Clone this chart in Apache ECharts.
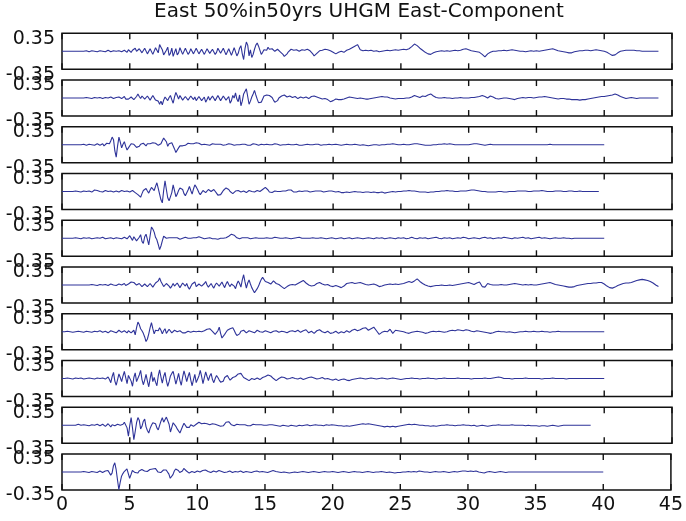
<!DOCTYPE html>
<html>
<head>
<meta charset="utf-8">
<script src="https://cdn.jsdelivr.net/npm/echarts@6/dist/echarts.min.js"></script>
<style>
html,body{margin:0;padding:0;background:#fff}
#main{width:686px;height:521px}
</style>
</head>
<body>
<div id="main"></div>
<script>
// first 20 s are sampled every 0.1 s, the rest every 0.2 s
var DT_EARLY = 0.1;
var DT_LATE = 0.2;
var T_SPLIT = 20;

// ---- trace 1 ----
var tr1Early = [0,0,0,0,0,0,0,0,0,0,0,0,0,0,0,0,0,0,0.01,0,-0.01,0,0.01,-0.01,0,0.01,-0.01,0,0.01,-0.01,0,0.01,-0.01,0.01,0.02,-0.01,-0.01,0.01,0.01,-0.01,0,0.01,0.01,-0.02,-0.01,0.02,0.02,-0.01,-0.02,0.03,
  0.05,-0.02,0.02,0.04,0.06,0,-0.02,0.05,0.03,-0.03,-0.04,0.06,0.04,-0.05,-0.03,0.05,0.02,-0.06,-0.05,0.07,0.04,-0.03,0.13,0.08,0.03,-0.07,-0.06,0.02,0.08,-0.08,-0.04,0.06,-0.1,-0.02,0.05,-0.07,-0.03,0.07,0.06,-0.06,-0.05,0.06,0.04,-0.06,-0.02,0.05,0.07,-0.05,-0.04,0.06,
  0.05,-0.05,-0.03,0.04,0.06,-0.06,-0.05,0.05,0.03,-0.04,-0.06,0.04,0.07,-0.06,-0.02,0.06,0.05,-0.04,-0.07,0.06,0.04,-0.07,-0.05,0.05,0.08,-0.08,-0.06,0.07,0.1,-0.09,-0.04,0.06,0.11,-0.05,-0.16,0.05,0.18,0.12,-0.09,0.03,-0.12,-0.06,0.04,0.12,0.16,0.1,0.07,-0.06,-0.02,0.03,
  0.05,0.02,0.08,0.04,0.02,0.05,0.04,0,-0.02,0.04,0.03,-0.01,-0.03,-0.06,-0.1,-0.08,-0.05,-0.01,0.02,0.04,0.04,0.02,0.01,0.03,0.03,0,0.01,0.03,0.04,0.02,0.02,0.04,0.03,0.01,-0.01,-0.05,-0.09,-0.07,-0.04,-0.01,0.01,0.03,0.02,0.01,0.04,0.02,0.03,0.03,0.01,-0.01];
var tr1Late = [-0.02,-0.05,-0.02,0,-0.02,0.02,0.04,0.07,0.1,0.13,0.03,0.01,0.02,0.01,0.02,0,0.01,-0.01,0,0.01,0.02,0.01,0.02,0.03,0.02,
  0.03,0.04,0.03,0.05,0.09,0.14,0.11,0.06,0.02,-0.02,-0.05,-0.06,-0.03,-0.01,0,0.01,0,0.01,0,0.01,0.02,0.01,0.02,0.04,0.05,
  0.03,0.01,0,-0.01,-0.02,-0.06,-0.11,-0.05,-0.02,0,0,0.01,0.01,0.02,0.01,0.02,0.03,0.02,0.01,0,0,-0.01,0,0.01,0,
  0.01,0,0.01,0.02,0.03,0.04,0.05,0.03,0.01,0,-0.01,-0.02,-0.03,-0.03,-0.01,0,0.01,0.01,0.02,0.02,0.01,0.02,0.03,0.02,0.01,
  0,-0.02,-0.05,-0.08,-0.07,-0.03,0,0.01,0.02,0.02,0.02,0.02,0.01,0.01,0,0,0,0,0,0,0];

// ---- trace 2 ----
var tr2Early = [0,0,0,0,0,0,0,0,0,0,0,0,0,0,0,0,0,0,0.01,-0.01,0,0.01,-0.01,0,0.01,-0.01,0,0.01,0.01,-0.01,-0.01,0.01,0.01,-0.01,0,0.01,0.02,-0.01,-0.01,0.02,0.01,-0.01,0.02,0,-0.01,0.02,0.03,-0.02,0.01,-0.02,
  -0.03,0.02,0.04,-0.03,-0.02,0.03,0.08,0.03,-0.01,0.04,0.05,-0.02,-0.04,0.04,0.03,-0.04,-0.05,0.05,0.04,-0.04,-0.02,-0.06,-0.12,-0.06,-0.13,-0.04,0.02,0.05,-0.05,0.01,0.05,-0.03,-0.1,0.02,0.11,0.05,-0.02,0.05,0.03,-0.04,-0.06,0.03,0.04,-0.04,-0.03,0.04,0.06,-0.03,0.02,-0.05,
  -0.04,0.03,0.05,-0.05,-0.02,0.02,-0.08,-0.03,0.03,-0.04,-0.05,0.04,0.06,-0.05,-0.03,0.05,0.04,-0.05,-0.06,0.04,0.03,-0.04,-0.05,0.03,-0.1,-0.05,0.05,0,0.1,-0.02,-0.07,0.06,-0.15,-0.06,0.08,0.1,0.18,0.03,-0.12,-0.06,0.02,0.08,0.15,0.06,-0.02,-0.09,-0.12,-0.08,-0.05,0.04,
  0.03,0.06,0.08,0.05,0.04,0.01,-0.04,-0.08,-0.1,-0.05,0,0.03,0.04,0.03,0.06,0.04,0.02,0.04,0.04,0.02,0.01,0.03,0.03,0,-0.01,0.01,0.02,0.01,0,0.01,0.02,0,-0.01,0.01,0.03,0.02,0.04,0.03,0.02,0.01,0,-0.01,-0.02,-0.02,-0.01,-0.02,-0.03,-0.05,-0.07,-0.06];
var tr2Late = [-0.05,-0.02,-0.03,-0.03,-0.02,0,0.02,0.01,0,-0.01,0,-0.01,-0.02,-0.02,-0.01,0,0.01,0.02,0.03,0.02,0.02,0,-0.01,-0.02,-0.01,
  -0.01,-0.01,0,0,0.02,0.05,0.03,0.01,0.04,0.03,0.06,0.08,0.04,0.01,0,0,0.01,0,0,-0.01,0,0,0.01,0,0,
  0,0.01,0.01,0.02,0.03,0.05,0.03,0,0.04,0.02,-0.01,-0.02,-0.01,0,0,-0.01,-0.02,-0.03,-0.01,0,0.01,0,0.01,0.01,0,
  0.01,0.02,0.02,0.03,0.02,0.01,0,-0.01,-0.02,-0.01,-0.01,-0.02,-0.02,-0.03,-0.03,-0.03,-0.04,-0.03,-0.03,-0.02,-0.01,0,0.01,0.02,0.03,
  0.03,0.04,0.05,0.06,0.08,0.06,0.03,0.01,-0.01,0,0.01,0,-0.01,0,0,0,0,0,0,0,0];

// ---- trace 3 ----
var tr3Early = [0,0,0,0,0,0,0,0,0,0,0,0,0,0,0,0,0.01,0,-0.01,0.01,0.01,-0.01,0,0.01,-0.01,0.01,0.02,-0.01,-0.01,0.02,0.02,-0.02,-0.02,0.03,0.04,0.02,0.08,0.15,0.1,-0.12,-0.24,-0.02,0.15,0.05,-0.06,0.01,0.06,-0.03,-0.1,-0.06,
  -0.04,0.02,0.04,0.01,-0.02,-0.05,-0.06,-0.03,0.01,0.04,0.03,0,-0.02,0.02,0.04,0.02,0,0.04,0.06,0.03,0.02,-0.01,-0.03,0.02,0.08,0.13,0.15,0.06,-0.03,0.02,0.05,0.04,0.02,-0.08,-0.15,-0.12,-0.06,-0.02,0,-0.02,-0.03,-0.01,0.02,0.03,0.03,0.02,0.01,0.02,0.03,0.04,
  0.05,0.03,0.02,0,-0.01,0.01,0.02,0,-0.02,-0.01,0.01,0.02,0.03,0.01,-0.01,0.01,0.02,0.01,0,-0.01,-0.02,0,0.01,0.02,0.03,0.01,0,-0.01,-0.02,0,0.01,0,-0.01,0.01,0.02,0.01,0,-0.01,-0.02,-0.01,0.01,0.02,0.03,0.01,0,-0.01,-0.01,0.01,0.02,0,
  0,0.01,0.02,0,-0.01,0,0.01,0.02,0.03,0.01,0,-0.01,-0.01,0,0.01,0,0,0.01,0.02,0,-0.01,0,0.01,0.01,0,-0.01,-0.02,-0.01,0.01,0,0,0.01,0.01,0,-0.01,0,0,0.01,0.02,0.01,0,-0.01,-0.01,0,0.01,0,0,0.01,0.01,0];
var tr3Late = [0,0.01,0,-0.01,0,0.01,0,0,0.01,0,-0.01,0,-0.01,-0.02,-0.01,0,0,-0.01,0,0,0.01,0.01,0.02,0.01,0,
  0,0.01,0,0,0.01,0.02,0.02,0.01,0,-0.01,-0.01,-0.01,0,0,0.01,0.01,0.02,0.01,0.02,0.01,0,0,0,0,0,
  0,0.01,0.02,0.02,0.01,0,-0.01,0,0.01,0,0,0,0,0,0,0,0,0,0,0,0,0,0,0,0,
  0,0,0,0,0,0.01,0,0,0,0,0,0,0,0,0,0,0,0,0,0,0,0,0,0,0,
  0];

// ---- trace 4 ----
var tr4Early = [0,0,0,0,0,0,0,0,0,0,0.01,0,0,-0.01,-0.01,0,0.01,0.01,0,-0.01,0.01,0,-0.01,0.01,0.03,0.03,0.02,0.01,0,-0.01,-0.01,0.01,0.02,0.01,0,0.01,0.01,0,-0.01,0,0.01,0,-0.01,0.01,0.02,0.01,0,-0.01,0.01,0,
  -0.01,0.01,0.02,0,-0.02,-0.03,-0.06,-0.09,-0.11,-0.04,0.02,0.05,0.06,0.01,-0.03,0.03,0.08,0.05,0.02,0.1,0.17,0.06,-0.05,-0.16,-0.22,0.02,0.21,0.04,-0.12,-0.18,-0.19,-0.02,0.13,0.02,-0.1,-0.05,0.02,0.07,0.1,0.04,-0.04,-0.08,-0.06,0.03,0.1,0.02,-0.05,0.05,0.13,0.09,
  0.04,-0.02,-0.06,-0.02,0.02,0.01,-0.02,0.01,0.04,0.02,0,0.02,0.04,0.01,-0.03,-0.07,-0.1,-0.06,-0.02,0.02,0.05,0.07,0.08,0.04,0,-0.03,-0.04,-0.02,0.01,0,0.02,0.01,-0.01,0,0.01,-0.01,-0.02,0,0.02,0.01,0,0,-0.01,0.01,0.02,0.01,0,0.02,0.04,0.06,
  0.08,0.06,0.03,-0.01,-0.04,-0.02,0,0.01,0.02,0,-0.01,0,0.01,0.01,0,0.01,0.02,0.03,0.04,0.03,0.01,-0.01,-0.02,-0.01,0,0.01,0.01,0,-0.01,0.01,0.02,0.01,0,-0.01,-0.01,0,0.01,0.01,0,0.01,0.02,0.01,0,-0.01,-0.01,0,0.01,0.01,0.02,0.01];
var tr4Late = [0,-0.01,0,-0.02,-0.02,-0.01,-0.02,-0.01,0,-0.01,-0.01,-0.02,-0.01,-0.01,-0.02,-0.01,-0.02,-0.02,-0.01,-0.03,-0.02,-0.01,0,-0.01,0,
  0,0.01,0.01,0.02,0.01,0.01,0,-0.01,-0.01,-0.01,-0.02,-0.01,-0.01,0,0,0.01,0.01,0.02,0.01,0.01,0,0,0.01,0.01,0.01,
  0.02,0.03,0.03,0.02,0.01,0,0,-0.01,-0.01,-0.01,-0.01,0,0,-0.01,-0.01,0,0,0,0.01,0.01,0.01,0.01,0,0,0.01,
  0.01,0.01,0.02,0.01,0,0,0,0.01,0.01,0.01,0,0,0.01,0.01,0,0,0.01,0,0,0,0,0,0,0];

// ---- trace 5 ----
var tr5Early = [0,0,0,0,0,0,0,0,0,0,0.01,0,0,-0.01,-0.01,0,0.01,0,0,0.01,0.01,0,-0.01,0,0,0.01,0.01,0,0,0.01,0.02,0,-0.01,0,0,0.01,0.01,0,-0.01,0,0.01,0.01,0,-0.01,-0.01,0.01,0.02,0.01,-0.01,0.02,
  0.05,0.02,-0.04,0.03,0.06,-0.05,-0.08,0.02,0.07,-0.06,-0.1,0.03,0.08,-0.02,-0.13,0.05,0.22,0.18,0.12,0.02,-0.03,-0.12,-0.22,-0.15,-0.05,0.04,0.05,0,-0.02,0.01,0.03,0.01,-0.01,0.01,0.02,0.01,0,-0.02,-0.02,0,0.01,0.02,0.02,0,-0.01,0,0.01,0.01,0,0.01,
  0.02,0.03,0.03,0.01,0,-0.01,-0.01,0,0.01,0.01,0,-0.01,-0.01,-0.01,-0.02,-0.02,-0.01,0,0.01,0,0,0.01,0.02,0.04,0.06,0.08,0.08,0.06,0.03,0.01,-0.01,-0.01,0,0.01,0.01,0.01,0.02,0.01,0,-0.01,-0.01,0,0.01,0.01,0,0,0.01,0,-0.01,0,
  0,0.01,0.01,0,0,0,0.01,0.02,0.02,0.01,0.01,0,-0.01,0,0,0.01,0.01,0,0,-0.01,-0.01,0,0,0.01,0.02,0.02,0.01,0,0,0,0.01,0,-0.01,0,0,0.01,0.01,0,0,0,0,0.01,0.01,0,0,-0.01,-0.01,0,0,0.01];
var tr5Late = [0.01,-0.01,0,0.01,-0.01,0,0.01,-0.01,0,0.01,0,-0.01,0,0.01,0,-0.01,0.01,0,0.01,-0.01,0,0.01,0,-0.01,0.01,
  0,0.01,-0.01,0,0.02,0,-0.01,0.01,0,0.01,-0.01,0,0.01,0.02,0,-0.01,0.01,0,0.01,-0.01,0,0.01,0,0.02,0.01,
  -0.01,0,0.01,0,-0.01,0.01,0.02,0,0.01,-0.01,0,0.01,0,0.02,0.01,0,-0.01,0.01,0,0.01,0.02,0,0.01,-0.01,0,
  0.01,0.02,0,0.01,0,-0.01,0,0.01,0,0,0.01,0,0,-0.01,0,0,0,0,0,0,0,0,0,0,0,
  0];

// ---- trace 6 ----
var tr6Early = [0,0,0,0,0,0,0,0,0,0,0,0,0,0,0,0,0,0,0,0,0,0,0.01,0,0,-0.01,-0.01,0.01,0.01,0,0,0.01,0.01,-0.01,-0.01,0.01,0.02,0,0,-0.01,-0.01,0.01,0.02,-0.01,0,0.02,0.03,-0.01,-0.02,0.02,
  0.04,0.06,0.09,0.05,0.03,0,-0.02,0.03,0.02,-0.03,-0.04,0.02,0.05,-0.03,-0.02,0.03,0.04,-0.04,-0.03,0.04,0.02,0.08,0.14,0.07,0.04,-0.03,-0.05,0.03,0.06,-0.02,-0.06,-0.02,0.03,-0.02,-0.04,0.04,0.07,-0.05,-0.02,0.04,0.05,-0.02,0.03,-0.04,-0.08,-0.03,0.02,0.05,0.06,-0.03,
  -0.05,0.02,0.05,-0.02,-0.03,0.03,0.07,0,-0.04,-0.02,0.03,-0.02,-0.06,0,0.04,0.03,-0.02,0.01,0.06,0,-0.05,0.02,0.07,0.01,-0.03,0.02,0.05,-0.02,-0.07,0.02,0.08,0.03,-0.04,0.1,0.2,0.06,-0.06,0.04,0.1,0.02,-0.05,-0.1,-0.15,-0.12,-0.07,-0.02,0.05,0.11,0.15,0.12,
  0.07,0.04,0.05,0.06,0.02,0.05,0.08,0.06,0.03,0,0.01,-0.01,-0.03,-0.05,-0.07,-0.06,-0.03,-0.01,0,0.02,0.01,0,0,0.02,0.03,0.04,0.06,0.08,0.09,0.07,0.04,0.01,0,-0.01,-0.02,-0.02,-0.01,0.01,0.03,0.05,0.05,0.04,0.02,0,0,0.01,0.01,0,-0.02,-0.03];
var tr6Late = [-0.03,-0.01,-0.03,-0.05,-0.02,0.03,0.04,0.05,0.03,0.04,0.05,0.03,0.01,0,0.01,0.02,0,-0.03,-0.02,0,0.01,0.02,0.01,0.02,0.01,
  0.02,0.03,0.05,0.07,0.05,0.08,0.12,0.07,0.03,0,-0.02,-0.03,-0.02,-0.01,-0.01,0,-0.01,-0.01,0,-0.01,0,0.01,0.02,0.03,0.04,
  0.05,0.03,0.01,0.04,0.06,-0.03,-0.04,0.03,0.01,0,0,0,0.01,0,0,0.01,0.02,0.03,0.02,0.01,0,0.01,0,0.01,0,
  0,0.01,0.02,0.03,0.04,0.05,0.03,0.01,0,-0.01,-0.02,-0.03,-0.04,-0.04,-0.03,-0.01,0,0.01,0.02,0.03,0.03,0.04,0.04,0.05,0.05,
  0.02,-0.02,-0.05,-0.06,-0.04,-0.01,0.01,0.03,0.04,0.04,0.05,0.07,0.09,0.1,0.11,0.1,0.09,0.07,0.04,0,-0.03];

// ---- trace 7 ----
var tr7Early = [0,0,0,0.01,0.01,0,0,-0.01,-0.01,0,0,0.01,0.01,0,0,0,-0.01,0,0.01,0,0,0.01,-0.01,0,0.01,0,0,0.01,0.02,0,-0.01,0.01,0.01,-0.01,-0.02,0,0.02,0.01,0,-0.01,-0.02,0.01,0.03,0.01,-0.01,0,0.02,0,-0.02,0.02,
  0.04,-0.02,0.01,0.03,-0.06,0.08,0.19,0.14,0.06,0.02,-0.03,-0.1,-0.19,-0.14,-0.04,0.08,0.18,0.06,-0.04,0.03,0.06,0.02,0.08,0.03,-0.04,0.02,0.06,-0.03,0,0.05,0.04,-0.02,-0.03,0.03,0.05,0,-0.02,0.02,0.03,-0.02,0,-0.02,-0.03,0.01,0.02,-0.01,-0.02,0.01,0.03,0,
  -0.02,0.01,0.02,0,-0.01,0.02,0.04,0.05,0.07,0.06,0.03,0.01,-0.02,-0.05,-0.07,0.02,0.09,-0.03,-0.12,-0.09,-0.05,-0.01,0.03,0.05,0.06,0.07,0.08,0.03,-0.03,-0.07,-0.09,-0.04,0.01,0.02,0.03,0.01,-0.02,0,0.02,0.01,0,-0.01,-0.02,0.01,0.03,0.01,0,-0.01,-0.01,0.01,
  0.02,0.01,0,-0.01,-0.02,0,0.01,0.01,0.02,0,-0.01,0,0.01,0.01,0,-0.01,-0.02,0,0.01,0.02,0.02,0.01,0,0.02,0.03,0.01,-0.01,0,0.02,0.03,0.04,0.01,-0.02,-0.01,0.01,-0.01,-0.03,0,0.02,0.03,0.04,0.02,0,-0.01,-0.02,0,0.01,-0.01,-0.03,-0.01];
var tr7Late = [-0.02,0.01,-0.03,0,-0.02,0.02,-0.01,0.03,0.05,0.02,0.04,0.07,0.08,0.03,0.06,0.09,0.02,-0.05,-0.01,0.01,0,0.05,-0.03,0.03,0.02,
  0.01,0,-0.02,-0.03,-0.01,0,0.01,0,-0.01,-0.03,-0.02,0,0.01,0,0.01,0,-0.01,0,0.02,0.03,0.02,0.04,0.03,0.02,0.04,
  0.03,0.01,0,0.02,0.01,0,-0.01,-0.02,-0.03,-0.02,0,0.01,0,0,-0.01,0,-0.01,-0.02,-0.01,0,0,0.01,0,0,0.01,
  0,0,0.01,0,0,-0.01,0,0,0.01,0,0,0,0,0,0,0,0,0,0,0,0,0,0,0,0,
  0];

// ---- trace 8 ----
var tr8Early = [0,0,0,0,0.01,0,0,-0.01,-0.01,0,0.01,0.01,0,0,0.01,0,-0.01,0,0,0.01,0.01,0,0,0,-0.01,0,0.01,0.01,0,0,0.01,0,-0.01,0.01,0.03,-0.02,-0.08,0.04,0.12,-0.05,-0.13,-0.02,0.09,0.02,-0.06,0.05,0.14,0.02,-0.1,0.06,
  0.07,-0.05,-0.15,0.02,0.11,-0.06,-0.04,0.07,0.16,-0.02,-0.12,-0.03,0.08,-0.05,-0.16,0,0.13,-0.06,0.02,-0.07,-0.14,0.05,0.17,0.03,-0.09,0.04,0.12,-0.04,-0.15,-0.06,0.05,0.1,0.14,0.02,-0.11,-0.01,0.1,-0.04,-0.13,0.03,0.15,0.05,-0.06,0.04,0.12,-0.03,-0.14,-0.02,0.08,-0.08,
  -0.05,0.05,0.16,0.04,-0.1,0.02,0.13,0.04,-0.04,0.05,0.1,-0.02,-0.08,0,0.06,0.02,-0.03,-0.07,-0.1,-0.05,0.02,0.05,0.06,0.01,-0.03,-0.01,0.02,0.01,0.04,0.07,0.09,0.11,0.1,0.06,0.02,0.01,-0.01,-0.03,-0.04,-0.01,0,-0.01,-0.02,0,0.01,-0.01,-0.02,0,0.02,0.03,
  0.04,0.06,0.07,0.06,0.05,0.02,0,-0.02,-0.04,-0.02,0,0.02,0.03,0.02,0.02,0,-0.01,0,0,0.01,0.02,0.01,0,-0.01,-0.01,0,0.01,0,-0.02,-0.01,0,0.01,0.02,0.03,0.03,0.02,0.01,0,-0.01,-0.01,0,0.01,0.02,0,-0.01,-0.01,0,-0.01,-0.02,-0.02];
var tr8Late = [-0.03,-0.01,-0.04,-0.02,-0.01,-0.03,-0.04,-0.02,-0.01,0,0.01,0,-0.01,0,0.01,0,-0.01,0,0.01,0,-0.01,0,0.01,0,-0.01,
  -0.02,-0.01,0,0,0.01,0,0,-0.01,0,0,0.01,0,0,-0.01,0,0,0.01,0,0,0,0,0.01,0,0,0,
  0,-0.01,0,0,0,0,0.01,0,0,0.01,0.02,0.03,0.02,0,0,0,-0.01,0,0,0,0,0.01,0,0,0,
  0,0,-0.01,0,0,0,0.01,0,0,0,0,-0.01,0,0,0,0,0,0,0,0,0,0,0,0,0,
  0];

// ---- trace 9 ----
var tr9Early = [0,0,0,0,0,0,0,0,0,0,0,0.01,0.02,0.01,0,0,0.01,0,0,0,-0.01,0,0.01,0,0,0.01,0.02,0,-0.01,0.01,0.02,0,-0.02,0.01,0.03,0,-0.03,0.01,0.04,-0.01,-0.04,0.02,0.05,0,-0.03,0.02,0.06,0.08,-0.05,-0.21,
  0,0.15,-0.05,-0.28,-0.12,0.05,0.15,0.1,-0.07,-0.02,0.08,0.12,-0.03,-0.1,-0.15,-0.06,0,0.05,0.07,0.03,-0.05,-0.09,0,0.08,0.15,0.06,0.08,0.16,0.19,0.02,-0.13,-0.04,0.05,0.06,-0.02,-0.07,-0.1,-0.15,-0.12,-0.02,0.04,0.02,-0.04,-0.07,-0.04,0.01,0.03,-0.02,-0.02,0.02,
  0.04,0.06,0.05,0.03,0.02,0.04,0.06,0.03,0,0.01,0.02,0.03,0.04,0.02,0.01,0,-0.01,-0.02,-0.03,-0.01,0.02,0.06,0.09,0.07,0.05,0.01,-0.02,-0.01,0.01,0.02,0.03,0.01,-0.01,0.01,0.02,0.01,0,-0.01,-0.02,-0.01,0.01,0.02,0.03,0.01,-0.01,0.01,0.02,0.01,0,0,
  0.01,0,-0.01,0.01,0.02,0.01,0,0,0.01,-0.01,-0.02,-0.02,-0.01,0,0,-0.01,-0.02,-0.02,-0.01,0,0,-0.01,-0.02,-0.02,-0.01,0,0,-0.01,-0.01,0,0.01,0.01,0,-0.01,-0.01,0,0,0.01,0.01,0,0,0,-0.01,-0.01,0,0.01,0.01,0,0,0.01];
var tr9Late = [0.01,0,-0.01,-0.01,-0.02,-0.01,-0.02,-0.01,0,0.01,0.02,0.03,0.02,0.03,0.02,0.01,0,-0.01,-0.02,-0.03,-0.02,-0.03,-0.02,-0.03,-0.02,
  -0.01,0,0.01,0.02,0.01,0.02,0.01,0,0,-0.01,-0.01,-0.02,-0.01,-0.02,-0.01,0,0,0.01,0,0,-0.01,0,0,0.01,0,
  0,-0.01,0,-0.02,-0.01,0,-0.01,-0.02,-0.01,0,0,0.01,0,0,0,0,0.01,0,0,0,0,-0.01,0,-0.01,-0.01,
  -0.01,-0.02,-0.01,-0.01,-0.02,-0.01,0,-0.01,-0.02,-0.01,0,0,0,0,0,0,0,0,0,0,0];

// ---- trace 10 ----
var tr10Early = [0,0,0,0,0,0,0,0,0,0,0,0,0,0,0,0,0.01,0,0,-0.01,-0.01,0,0.01,0.01,0,-0.01,-0.01,0.01,0.02,0,-0.01,0.01,0.02,-0.01,0.03,0.04,-0.06,-0.02,0.12,0.18,0.05,-0.15,-0.34,-0.2,-0.08,-0.03,0.01,0.04,0.06,-0.03,
  -0.12,-0.05,0.03,0.01,-0.01,-0.02,-0.02,0.02,0.04,0.05,0.05,0.02,0,0.01,0.03,0.05,0.05,0.06,0.08,0.07,0.04,0,-0.03,-0.01,0.02,0.04,0.05,0.04,0.03,-0.04,-0.12,-0.09,-0.05,0.02,0.06,0.05,0.03,-0.01,-0.04,0.02,0.07,0.05,0.02,-0.01,-0.02,0,0.01,0,-0.01,0.01,
  0.02,0.01,0,0.02,0.03,0.04,0.04,0.02,0.01,0,-0.01,0.01,0.02,0.01,0,0.02,0.03,0.02,0.01,0,-0.01,-0.01,0,0.01,0.02,0,-0.01,0,0.01,0.01,0,0.01,0.02,0,-0.01,0,0.01,0.01,0,-0.01,-0.01,0,0.01,0.02,0.02,0.01,0,0,0.01,0,
  0,0,-0.01,0,0.01,0.02,0.03,0.02,0.01,0,0,0,-0.01,-0.01,0,-0.01,-0.01,-0.02,-0.02,-0.01,-0.01,-0.01,0,0,-0.01,0,0,0.01,0.01,0,0,0,-0.01,0,0,0.01,0.01,0,0,0,-0.01,0,0,0,0.01,0.01,0,0,0,0];
var tr10Late = [0.01,0,-0.01,0,0.01,0,-0.01,0,0.01,0,0,-0.01,0,0.01,0,-0.01,0,0,0.01,0,-0.01,0,-0.01,-0.02,-0.01,
  -0.01,0,0,0.01,0,0.01,0,0.02,0.01,0,0,-0.01,0,0.01,0,0,0.01,0,-0.01,0,0.01,0,0.01,0.02,0.02,
  0.01,0.02,0.01,0.02,0,-0.01,-0.02,0,0.01,0,-0.01,0,0.01,0,-0.01,0,0,0,0,0,0,0,0,0,0,
  0,0,0,0,0,0,0,0,0,0,0,0,0,0,0,0,0,0,0,0,0,0,0,0,0,
  0];

var traces = [
    [tr1Early, tr1Late], [tr2Early, tr2Late], [tr3Early, tr3Late], [tr4Early, tr4Late], [tr5Early, tr5Late],
    [tr6Early, tr6Late], [tr7Early, tr7Late], [tr8Early, tr8Late], [tr9Early, tr9Late], [tr10Early, tr10Late]
];
var xTicks = [0, 5, 10, 15, 20, 25, 30, 35, 40, 45];
var yTicks = [-0.35, 0.35];
var titleText = 'East 50%in50yrs UHGM East-Component';

var Y_MIN = -0.35, Y_MAX = 0.35;
var TICK_LEN = 6;
var FONT = 'DejaVu Sans';
var INK = '#111';
var LINE = '#2e3399';

var chart = echarts.init(document.getElementById('main'));

// turn the early/late value lists into [time, value] pairs
function toPoints(early, late) {
    var pts = [];
    for (var i = 0; i < early.length; i++) {
        pts.push([Math.round(i * DT_EARLY * 10) / 10, early[i]]);
    }
    for (var j = 0; j < late.length; j++) {
        pts.push([Math.round((T_SPLIT + j * DT_LATE) * 10) / 10, late[j]]);
    }
    return pts;
}

// inner tick marks on top and bottom frame, placed through the axis scale
var tickData = xTicks.map(function (x) { return [x, 0]; });
function renderTicks(params, api) {
    var top = api.coord([api.value(0), Y_MAX]);
    var bot = api.coord([api.value(0), Y_MIN]);
    return {
        type: 'group',
        children: [
            {type: 'line', shape: {x1: top[0], y1: top[1], x2: top[0], y2: top[1] + TICK_LEN}, style: {stroke: INK, lineWidth: 1.4}},
            {type: 'line', shape: {x1: bot[0], y1: bot[1], x2: bot[0], y2: bot[1] - TICK_LEN}, style: {stroke: INK, lineWidth: 1.4}}
        ]
    };
}

var grids = [], xAxes = [], yAxes = [], series = [];
for (var k = 0; k < traces.length; k++) {
    var last = (k === traces.length - 1);
    grids.push({
        left: 62, width: 610, top: 33.3 + k * 46.75, height: 36,
        show: true, borderColor: INK, borderWidth: 1.5, backgroundColor: 'transparent'
    });
    // bottom axis (labels only on the last panel)
    xAxes.push({
        gridIndex: k, type: 'value', position: 'bottom', min: 0, max: 45, interval: 5,
        axisLine: {show: false, onZero: false},
        axisTick: {show: false},
        splitLine: {show: false},
        axisLabel: {
            show: last, customValues: xTicks, margin: 6,
            fontSize: 19, fontFamily: FONT, color: INK
        }
    });
    yAxes.push({
        gridIndex: k, type: 'value', min: Y_MIN, max: Y_MAX,
        axisLine: {show: false, onZero: false}, axisTick: {show: false}, splitLine: {show: false},
        axisLabel: {
            customValues: yTicks, margin: 7,
            verticalAlign: 'top', verticalAlignMinLabel: 'top', verticalAlignMaxLabel: 'top',
            lineHeight: 11,
            fontSize: 19, fontFamily: FONT, color: INK,
            formatter: function (v) { return v.toFixed(2); }
        }
    });
    series.push({
        type: 'line', xAxisIndex: k, yAxisIndex: k,
        data: toPoints(traces[k][0], traces[k][1]),
        showSymbol: false, symbol: 'none', silent: true,
        lineStyle: {width: 1.1, color: LINE}
    });
    series.push({
        type: 'custom', coordinateSystem: 'cartesian2d', xAxisIndex: k, yAxisIndex: k,
        silent: true, clip: false, z: 5,
        encode: {x: 0, y: 1},
        data: tickData, renderItem: renderTicks
    });
}

var option = {
    animation: false,
    backgroundColor: '#fff',
    graphic: [{
        type: 'text', x: 359, y: 12,
        style: {text: titleText, fontSize: 20, fontFamily: FONT, fill: INK, align: 'center', verticalAlign: 'middle'}
    }],
    grid: grids,
    xAxis: xAxes,
    yAxis: yAxes,
    series: series
};

chart.setOption(option);
</script>
</body>
</html>
